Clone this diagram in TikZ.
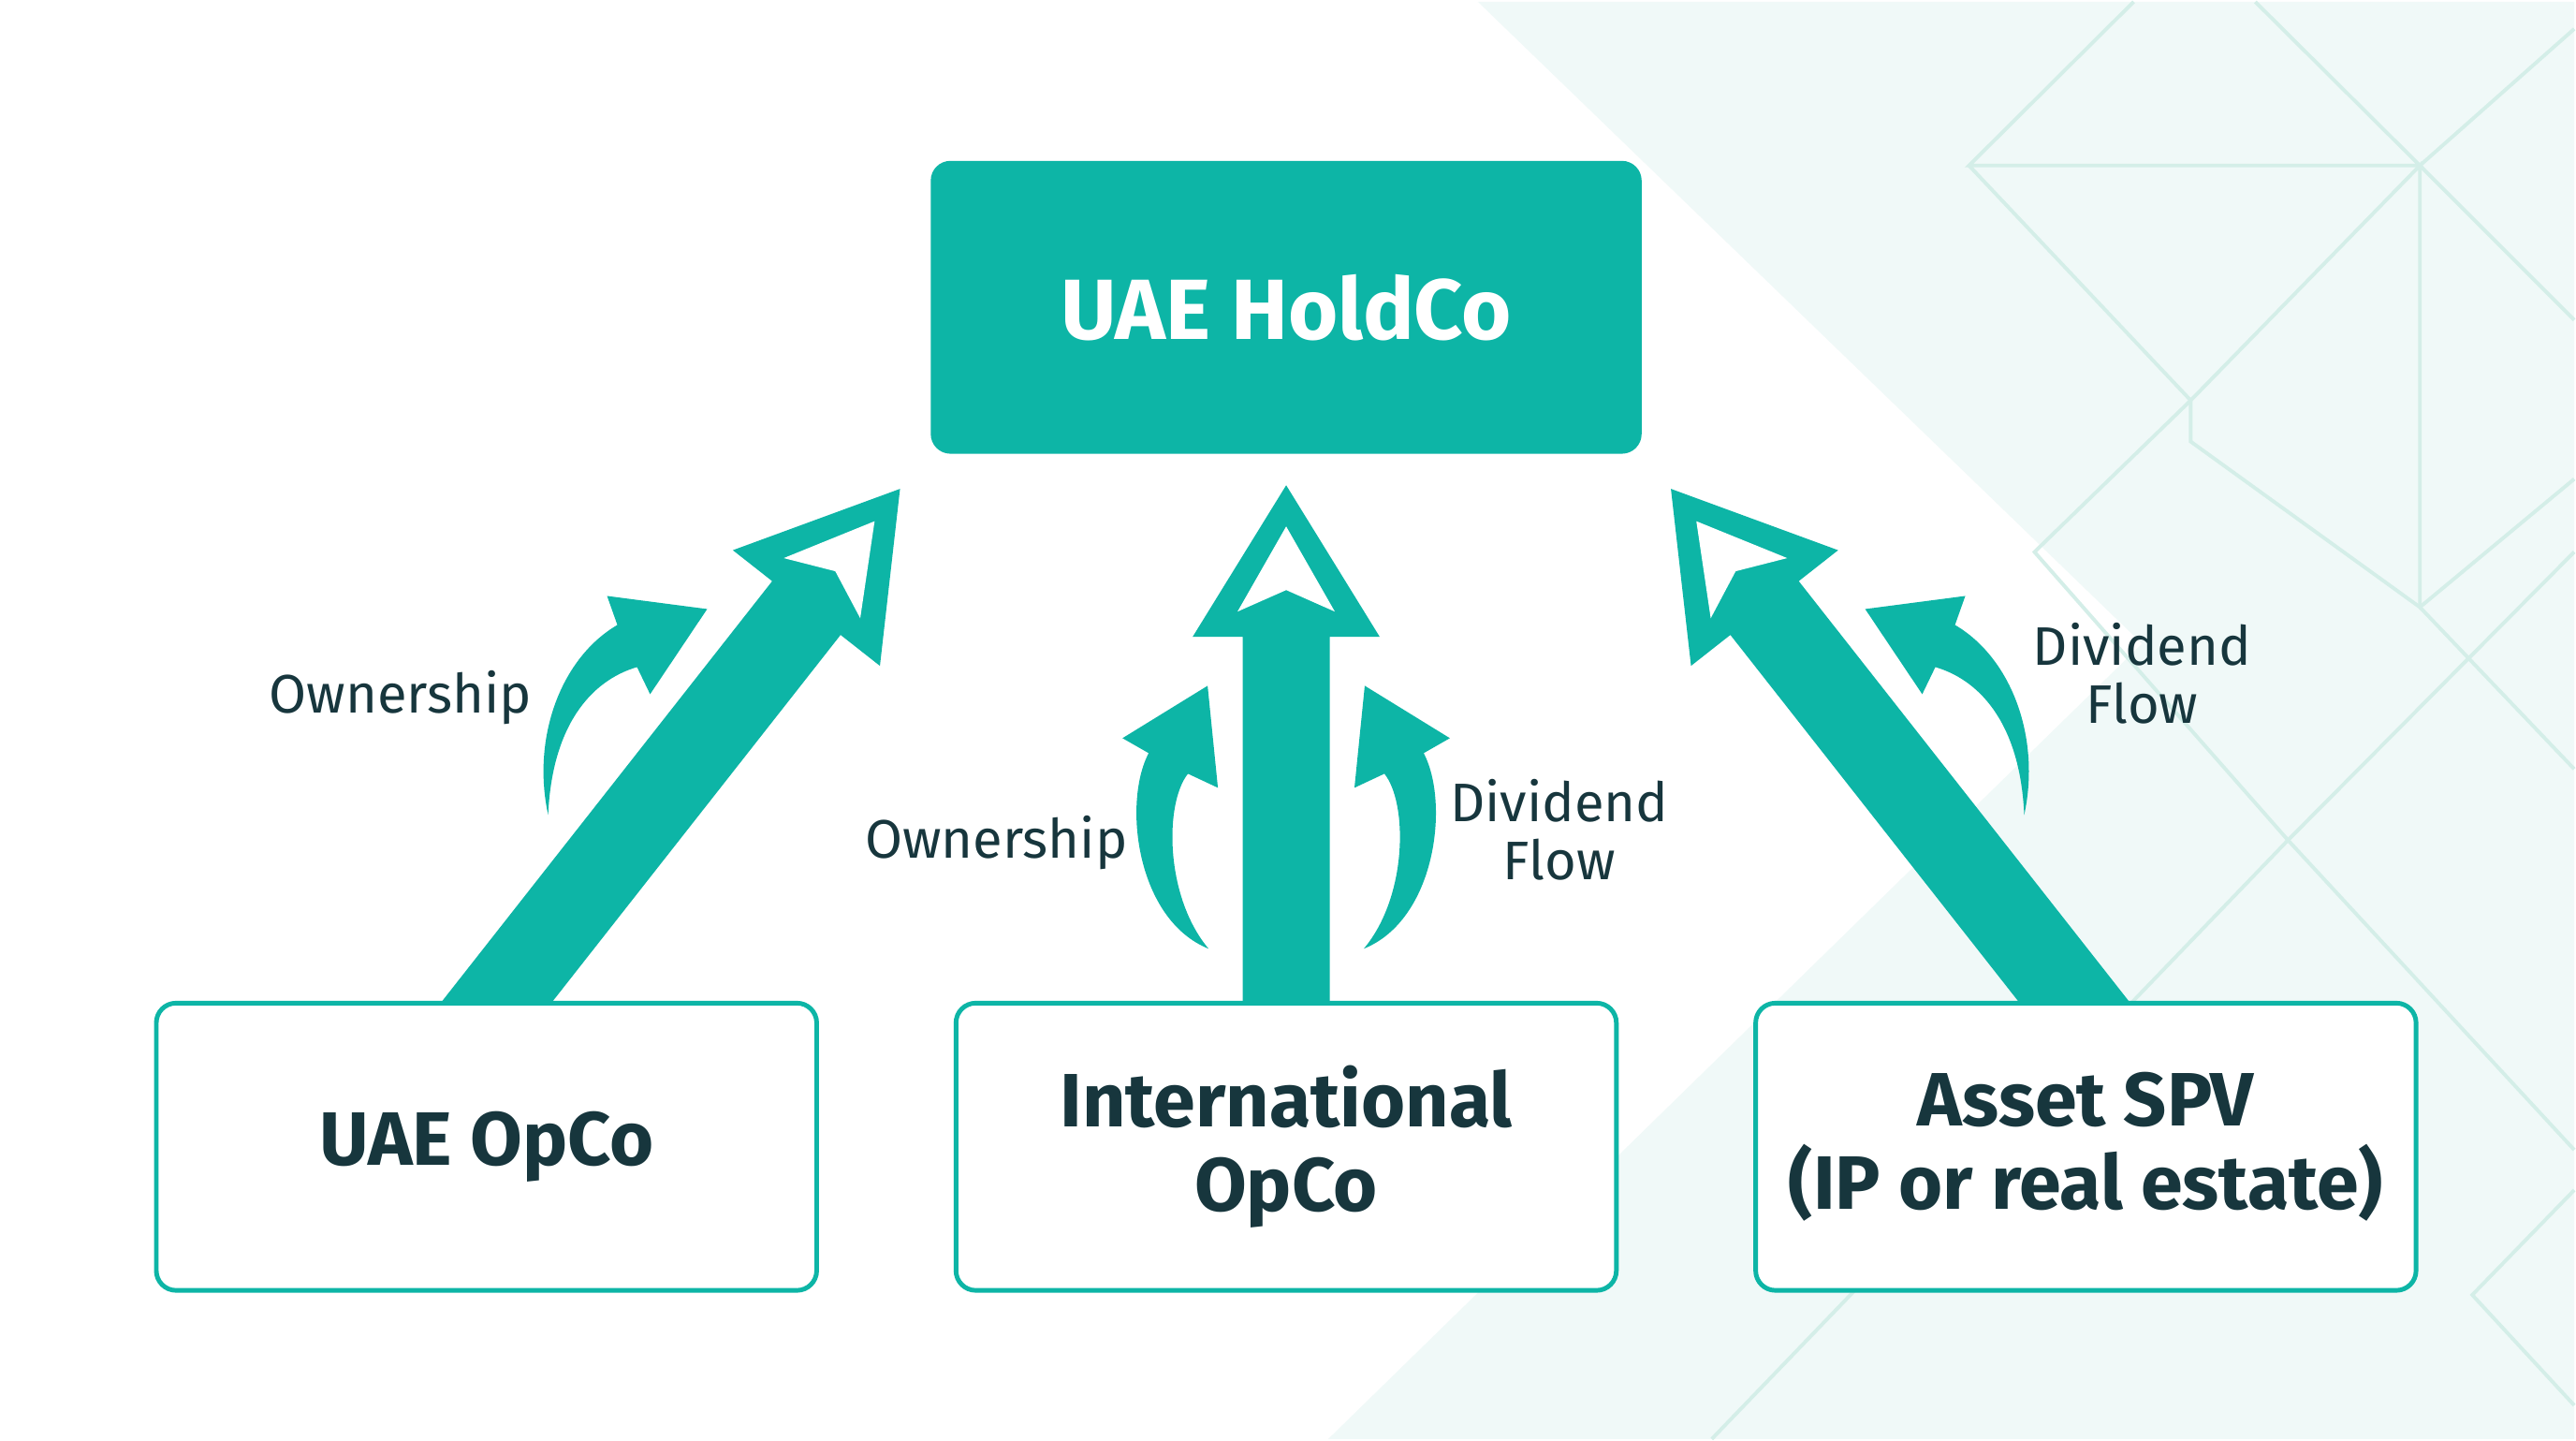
\documentclass[tikz,border=0pt]{standalone}
\usepackage{fontspec}
\setmainfont{Fira Sans}
\usetikzlibrary{positioning}
\usetikzlibrary{calc}
\definecolor{mteal}{rgb}{0.05, 0.71, 0.65}
\definecolor{mink}{rgb}{0.09, 0.21, 0.24}
\definecolor{mmint}{rgb}{0.943, 0.977, 0.971}
\definecolor{mline}{rgb}{0.83, 0.932, 0.91}
\pgfdeclarelayer{bg}
\pgfdeclarelayer{flow}
\pgfsetlayers{bg,flow,main}
\tikzset{entity/.style = {draw=mteal, line width=1.4pt, fill=white, rounded corners=6pt,
                          minimum width=7.06cm, minimum height=3.07cm, inner sep=0pt,
                          align=center, text=mink, font=\fontsize{23}{25.5}\selectfont\bfseries},
         holding/.style = {fill=mteal, rounded corners=6pt, minimum width=7.6cm,
                           minimum height=3.13cm, inner sep=0pt, text=white,
                           font=\fontsize{26}{30}\selectfont\bfseries},
         flowlabel/.style = {align=center, text=mink, font=\fontsize{16.5}{17.5}\selectfont},
         deco/.style = {draw=mline, line width=1.1pt},
         pics/bigarrow/.style = {code={
             \fill [mteal] (-0.465, -1) -- (-0.465, {#1-1.62}) -- (-1, {#1-1.62}) -- (0, #1)
                           -- (1, {#1-1.62}) -- (0.465, {#1-1.62}) -- (0.465, -1) -- cycle;
             \fill [white] (0, {#1-0.44}) -- (0.52, {#1-1.35}) -- (0, {#1-1.12})
                           -- (-0.52, {#1-1.35}) -- cycle;
         }},
         pics/swooshout/.style = {code={
             \fill [mteal] (0, 0) .. controls (-0.18, 0.83) and (0.14, 1.68) .. (0.74, 2.03)
                           -- (0.63, 2.34) -- (1.70, 2.20) -- (1.09, 1.29) -- (0.95, 1.58)
                           .. controls (0.44, 1.43) and (0.04, 0.93) .. (0, 0);
         }},
         pics/swooshmid/.style = {code={
             \fill [mteal] (0, 0) .. controls (-0.77, 0.31) and (-0.92, 1.56) .. (-0.64, 2.09)
                           -- (-0.92, 2.25) -- (-0.01, 2.81) -- (0.10, 1.72) -- (-0.22, 1.87)
                           .. controls (-0.47, 1.56) and (-0.47, 0.56) .. (0, 0);
         }}}

\begin{document}
\begin{tikzpicture}
    \begin{pgfonlayer}{bg}
      \fill [white] (0, 0) rectangle (27.52, 15.36);
      \fill [mmint] (15.80, 15.36) -- (27.52, 15.36) -- (27.52, 0) -- (14.20, 0) -- (22.90, 8.50) -- cycle;
      \draw [deco] (22.81, 15.36) -- (21.05, 13.61) -- (25.87, 13.61) -- (24.11, 15.36);
      \draw [deco] (21.05, 13.61) -- (23.42, 11.10) -- (25.87, 13.61) -- (25.87, 8.89);
      \draw [deco] (23.42, 11.10) -- (23.42, 10.66) -- (25.87, 8.89) -- (27.52, 10.26);
      \draw [deco] (27.52, 15.07) -- (25.87, 13.61) -- (27.52, 11.96);
      \draw [deco] (23.42, 11.10) -- (21.75, 9.48) -- (24.46, 6.40) -- (27.52, 3.09);
      \draw [deco] (25.87, 8.89) -- (27.52, 7.16);
      \draw [deco] (27.52, 9.48) -- (24.46, 6.40) -- (18.30, 0);
      \draw [deco] (27.52, 2.66) -- (26.43, 1.54) -- (27.52, 0.36);
    \end{pgfonlayer}

    \node [holding] (hold) at (13.75, 12.095) {UAE HoldCo};
    \node [entity, below=5.84cm of hold] (intl) {International\\OpCo};
    \node [entity, left=1.44cm of intl] (opco) {UAE OpCo};
    \node [entity, right=1.44cm of intl] (spv) {Asset SPV\\(IP or real estate)};

    \begin{pgfonlayer}{flow}
      \pic [rotate=-38.17] at ($(opco.north)+(0.12, 0)$) {bigarrow=6.96};
      \pic at (intl.north) {bigarrow=5.51};
      \pic [rotate=38.17] at ($(spv.north)+(-0.135, 0)$) {bigarrow=6.96};
    \end{pgfonlayer}

    \pic at (5.86, 6.67) {swooshout};
    \pic [xscale=-1] at (21.64, 6.67) {swooshout};
    \pic at (12.92, 5.24) {swooshmid};
    \pic [xscale=-1] at (14.58, 5.24) {swooshmid};

    \node [flowlabel] (ownout) at (4.28, 7.92) {Ownership};
    \node [flowlabel] (ownmid) at (10.65, 6.37) {Ownership};
    \node [flowlabel] (divmid) at (16.67, 6.51) {Dividend\\Flow};
    \node [flowlabel] (divout) at (22.90, 8.18) {Dividend\\Flow};
  \end{tikzpicture}
\end{document}
